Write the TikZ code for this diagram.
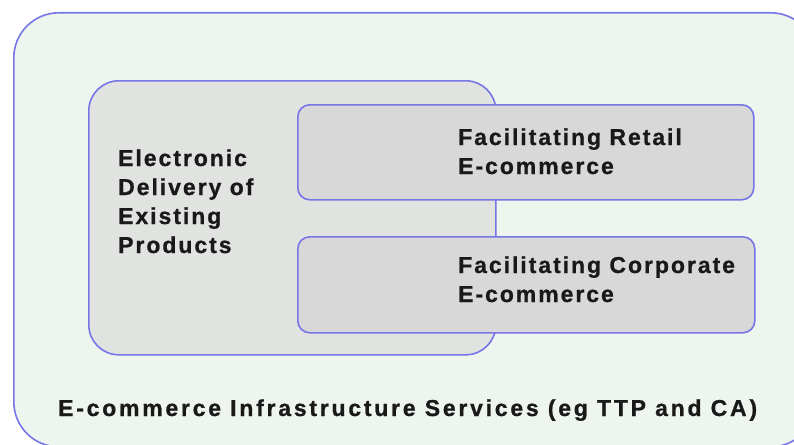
\documentclass[tikz,border=0pt]{standalone}
\usepackage{fontspec}
\setmainfont{Liberation Sans}
\newfontfamily\labelfont[LetterSpace=8.5, FakeBold=0.8]{Liberation Sans Bold}
\newfontfamily\footfont[LetterSpace=12, FakeBold=0.8]{Liberation Sans Bold}
\begin{document}
\begin{tikzpicture}[x=1pt,y=-1pt,
  edgeblue/.style={draw=edge, line width=1.6pt},
  panel/.style={edgeblue, rectangle, inner sep=0pt, anchor=north west},
  lbl/.style={inner sep=0pt, anchor=base west, align=left,
    font=\labelfont\fontsize{23}{29}\selectfont, text=black!90},
  footlbl/.style={lbl, font=\footfont\fontsize{23}{29}\selectfont}
]
\definecolor{edge}{HTML}{7676E6}
\definecolor{outerfill}{HTML}{EEF4EE}
\definecolor{midfill}{HTML}{E1E3E1}
\definecolor{boxfill}{HTML}{D8D8D8}
\useasboundingbox (0,0) rectangle (794,444);
\clip (0,0) rectangle (794,444);
\fill[white] (0,0) rectangle (794,444);

% infrastructure layer
\node[panel, fill=outerfill, rounded corners=45pt,
  minimum width=802pt, minimum height=434pt] (infra) at (13,12) {};

% delivery of existing products
\node[panel, fill=midfill, rounded corners=30pt,
  minimum width=407pt, minimum height=274pt] (delivery) at (88,80) {};

% retail and corporate layers
\node[panel, fill=boxfill, rounded corners=12pt,
  minimum width=456pt, minimum height=95pt] (retail) at (297,104) {};
\node[panel, fill=boxfill, rounded corners=12pt,
  minimum width=457pt, minimum height=96pt] (corporate) at (297,236) {};

% labels (base anchor sits on the last line's baseline)
\node[lbl] (retailtext) at (458,174) {Facilitating Retail\\E-commerce};
\node[lbl] (corptext) at (458,302) {Facilitating Corporate\\E-commerce};
\node[lbl] (deliverytext) at (118,253) {Electronic\\Delivery of\\Existing\\Products};
\node[footlbl] (infratext) at (58,416) {E-commerce Infrastructure Services (eg TTP and CA)};
\end{tikzpicture}
\end{document}
